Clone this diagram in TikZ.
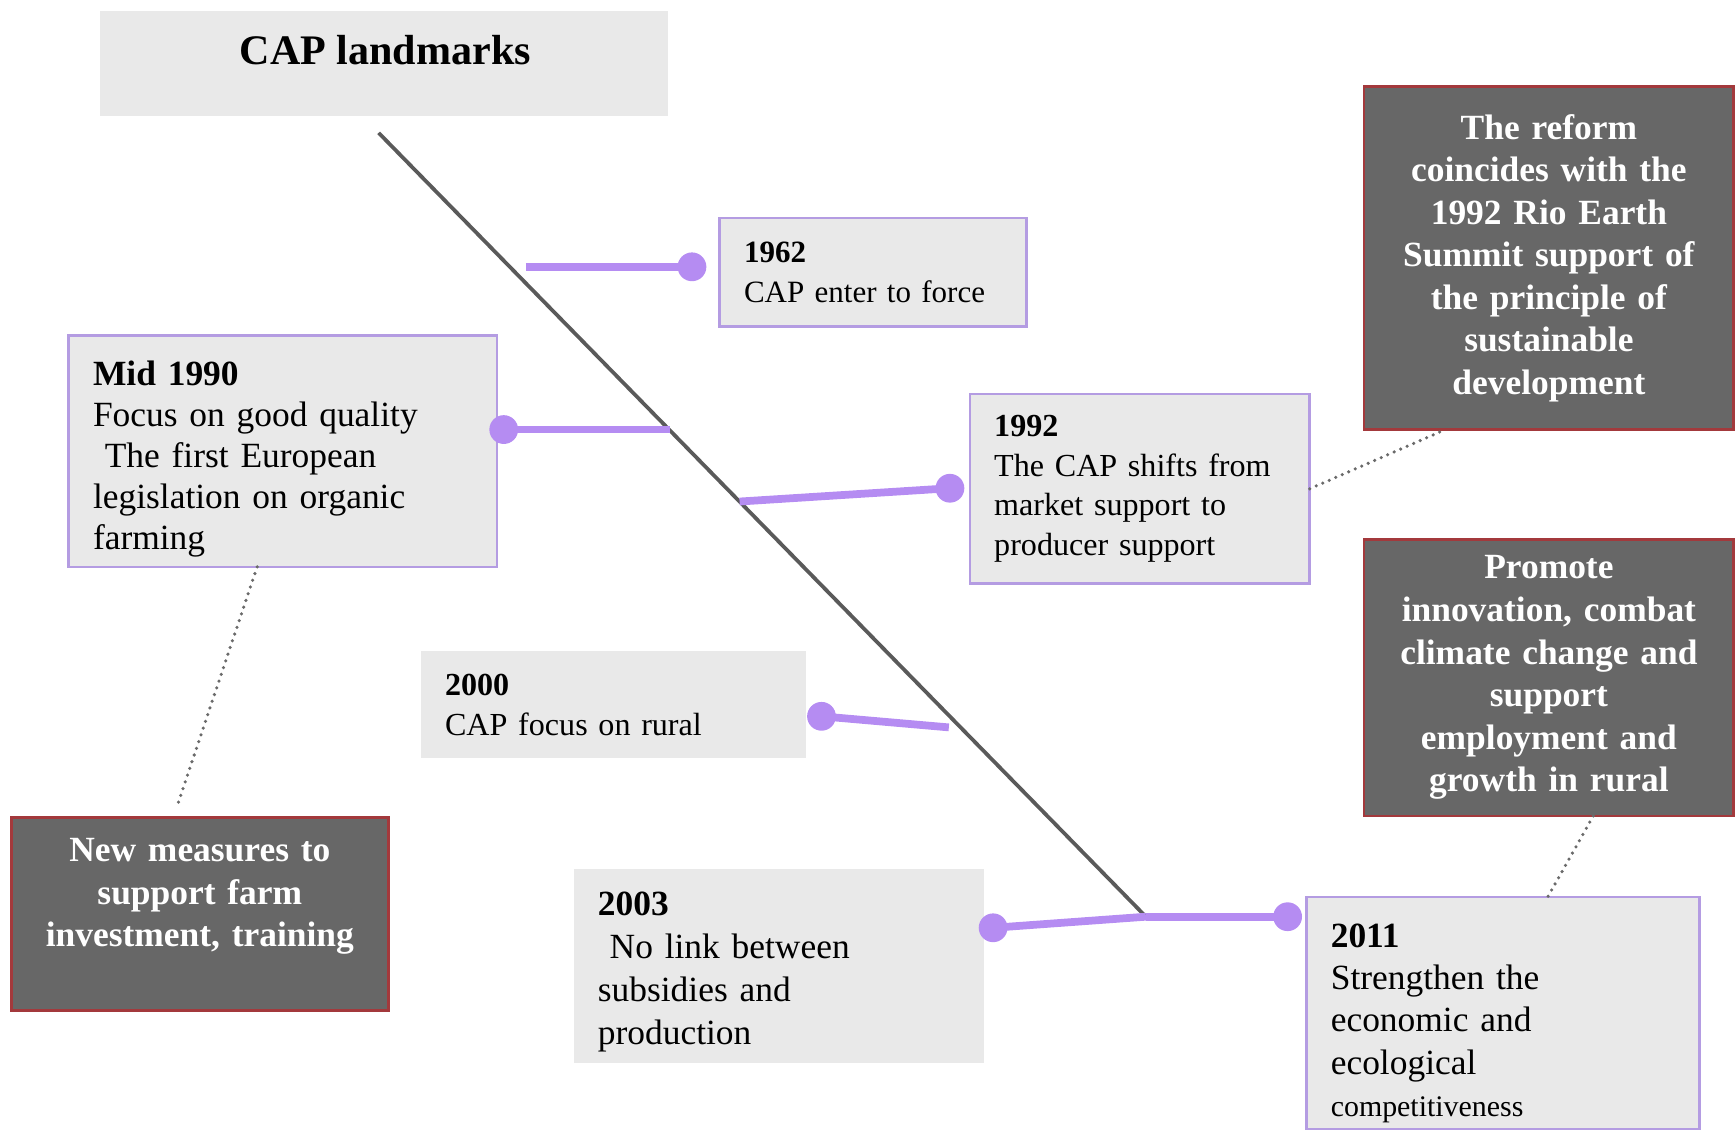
\documentclass[tikz,border=0pt]{standalone}
\usepackage{fontspec}
\setmainfont{Liberation Serif}
\usetikzlibrary{calc}
\definecolor{boxgray}{HTML}{E9E9E9}
\definecolor{boxpurple}{HTML}{B49CE2}
\definecolor{connpurple}{HTML}{B58CF2}
\definecolor{darkfill}{HTML}{676767}
\definecolor{darkborder}{HTML}{A3393C}
\definecolor{mainline}{HTML}{5A5A5A}
\definecolor{dotgray}{HTML}{6A6A6A}
\tikzset{
  lightbox/.style={fill=boxgray, inner xsep=11pt, inner ysep=3pt, outer sep=0pt, align=left, font=\fontsize{14.5}{18}\selectfont},
  purplebox/.style={lightbox, draw=boxpurple, line width=1.2pt},
  darkbox/.style={fill=darkfill, draw=darkborder, line width=1.3pt, text=white, align=center, inner xsep=4pt, outer sep=0pt, font=\bfseries\fontsize{16}{19.2}\selectfont},
  conn/.style={connpurple, line width=3.5pt},
  knob/.style={fill=connpurple},
  dotline/.style={dotgray, line width=1.6pt, line cap=round, dash pattern=on 0pt off 3.2pt},
}
\begin{document}
\begin{tikzpicture}[x=0.5pt, y=-0.5pt]
\useasboundingbox (0,0) rectangle (1568,1020);
% title
\node[fill=boxgray, minimum width=256.5pt, minimum height=47.5pt, inner sep=0pt] (title) at (346.5,57.5) {};
\node[font=\bfseries\fontsize{19}{22}\selectfont, inner sep=0pt] (titletext) at (348,45) {CAP landmarks};
% main line
\coordinate (top) at (342,120);
\coordinate (bot) at (1035,828);
\draw[mainline, line width=1.7pt] (top) -- (bot);
% boxes
\node[purplebox, text width=116.5pt, minimum height=49pt, font=\fontsize{14}{18}\selectfont] (n1962) at (788.5,246)
  {\textbf{1962}\\CAP enter to force};
\node[purplebox, text width=171.5pt, minimum height=104.5pt, font=\fontsize{16}{18.5}\selectfont] (n1990) at (255.5,407.5)
  {\rule{0pt}{18pt}\textbf{Mid 1990}\\Focus on good quality\\\ The first European\\legislation on organic\\farming};
\node[purplebox, text width=131.5pt, minimum height=85.5pt, font=\fontsize{14.5}{18}\selectfont] (n1992) at (1029.5,441.5)
  {\textbf{1992}\\The CAP shifts from\\market support to\\producer support};
\node[lightbox, text width=152pt, minimum height=48.5pt] (n2000) at (554,636.5)
  {\textbf{2000}\\CAP focus on rural};
\node[lightbox, text width=163.5pt, minimum height=87.5pt, font=\fontsize{16}{19.5}\selectfont] (n2003) at (703.5,872.5)
  {\rule{0pt}{16pt}\textbf{2003}\\\ No link between\\subsidies and\\production};
\node[purplebox, text width=155.5pt, minimum height=103pt, font=\fontsize{16}{19}\selectfont] (n2011) at (1357.5,915)
  {\rule{0pt}{20pt}\textbf{2011}\\Strengthen the\\economic and\\ecological\\{\fontsize{13.5}{17}\selectfont competitiveness}};
\node[darkbox, text width=159pt, minimum height=155pt] (rio) at (1399,233)
  {The reform\\coincides with the\\1992 Rio Earth\\Summit support of\\the principle of\\sustainable\\development};
\node[darkbox, text width=159pt, minimum height=125pt] (prom) at (1399,612)
  {Promote\\innovation, combat\\climate change and\\support\\employment and\\growth in rural};
\node[darkbox, text width=162.5pt, minimum height=87.5pt] (nm) at (180.5,825.5)
  {New measures to\\support farm\\investment, training\\\mbox{}};
% junctions and knobs
\coordinate (j1962) at (475,241);
\coordinate (j1990) at (605,388);
\coordinate (j1992) at (668,453);
\coordinate (j2000) at (857,657);
\coordinate (d1962) at (625,241);
\coordinate (d1990) at (455,388);
\coordinate (d1992) at (858,441);
\coordinate (d2000) at (742,647);
\coordinate (d2003) at (897,838);
\coordinate (d2011) at (1163,828);
\draw[conn] (j1962) -- (d1962);
\draw[conn] (j1990) -- (d1990);
\draw[conn] (j1992) -- (d1992);
\draw[conn] (j2000) -- (d2000);
\draw[conn] (bot) -- (d2003);
\draw[conn] (bot) -- (d2011);
\foreach \d in {d1962,d1990,d1992,d2000,d2003,d2011}
  \fill[knob] (\d) circle (6.5pt);
% dotted links
\draw[dotline] ($(n1990.south west)!0.44!(n1990.south east)$) -- ($(nm.north west)!0.44!(nm.north east)+(0,-10)$);
\draw[dotline] (n1992.east) -- ($(rio.south west)!0.22!(rio.south east)$);
\draw[dotline] ($(prom.south west)!0.62!(prom.south east)$) -- ($(n2011.north west)!0.614!(n2011.north east)$);
\end{tikzpicture}
\end{document}
